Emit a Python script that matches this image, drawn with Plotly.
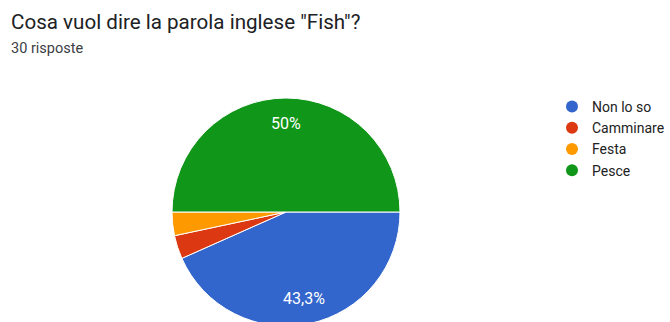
import math
import plotly.graph_objects as go

labels = ["Non lo so", "Camminare", "Festa", "Pesce"]
values = [13, 1, 1, 15]
colors = ["#3366CC", "#DC3912", "#FF9900", "#109618"]
title = 'Cosa vuol dire la parola inglese "Fish"?'
subtitle = "30 risposte"

W, H = 670, 330  # page viewport is 322 tall; bottom of pie is clipped like the reference
cx, cy, R = 286, 212, 114  # pie centre / radius in px
start_deg = 90  # first slice starts at 3 o'clock, clockwise

total = sum(values)

def px_x(x):
    return x / W

def px_y(y):
    return 1 - y / H

annotations = [
    dict(text=title, x=px_x(9), y=px_y(22), xref="paper", yref="paper",
         xanchor="left", yanchor="middle", showarrow=False,
         font=dict(size=20.6, color="#202124")),
    dict(text=subtitle, x=px_x(9), y=px_y(49), xref="paper", yref="paper",
         xanchor="left", yanchor="middle", showarrow=False,
         font=dict(size=14.5, color="#3c4043")),
]

acc = 0.0
for v in values:
    p = 100 * v / total
    mid = start_deg + 360 * (acc + v / 2) / total
    acc += v
    if p < 5:
        continue
    s = f"{p:.1f}".rstrip("0").rstrip(".").replace(".", ",") + "%"
    rr = 0.78 * R
    x = cx + rr * math.sin(math.radians(mid))
    y = cy - rr * math.cos(math.radians(mid))
    annotations.append(dict(text=s, x=px_x(x), y=px_y(y), xref="paper", yref="paper",
                            xanchor="center", yanchor="middle", showarrow=False,
                            font=dict(size=16, color="white")))

fig = go.Figure()
fig.add_trace(go.Pie(
    labels=labels, values=values, sort=False, direction="clockwise", rotation=start_deg,
    marker=dict(colors=colors, line=dict(color="white", width=1)),
    textinfo="none",
    hoverinfo="label+percent", showlegend=False,
    domain=dict(x=[px_x(cx - R), px_x(cx + R)], y=[px_y(cy + R), px_y(cy - R)]),
))
for lab, col in zip(labels, colors):
    fig.add_trace(go.Scatter(x=[None], y=[None], mode="markers", name=lab,
                             marker=dict(symbol="circle", size=13, color=col)))

fig.update_layout(
    width=W, height=H, margin=dict(l=0, r=0, t=0, b=0),
    paper_bgcolor="white", plot_bgcolor="white",
    xaxis=dict(visible=False), yaxis=dict(visible=False),
    font=dict(family="Roboto, Arial, sans-serif", color="#222222"),
    legend=dict(x=px_x(552), xanchor="left", y=px_y(91), yanchor="top",
                font=dict(size=14, color="#222222"), itemsizing="constant",
                bgcolor="rgba(0,0,0,0)"),
    annotations=annotations,
)
fig.write_html(
    "out.html",
    config={"displayModeBar": False},
    post_script="document.body.style.margin='0';document.body.style.overflow='hidden';"
                "document.documentElement.style.overflow='hidden';",
)
